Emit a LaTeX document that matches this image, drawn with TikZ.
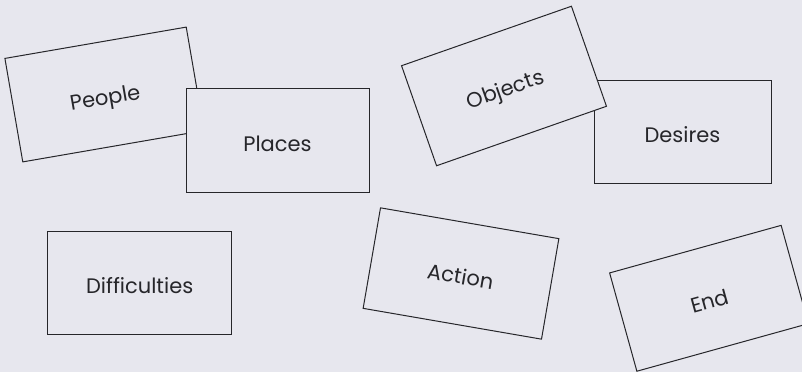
\documentclass[tikz,border=0pt]{standalone}
\usepackage{fontspec}
\setmainfont{Poppins}
\definecolor{paper}{RGB}{231,231,238}
\definecolor{ink}{RGB}{38,38,42}
\begin{document}
\begin{tikzpicture}[x=1pt,y=1pt,
  card/.style={draw=ink, line width=1pt, fill=paper, rectangle, inner sep=0pt,
    text=ink, font=\fontsize{21}{24}\selectfont, text height=21pt, text depth=0pt}]
\useasboundingbox (0,0) rectangle (802,372);
\clip (0,0) rectangle (802,372);
\fill[paper] (0,0) rectangle (802,372);
\node[card, minimum width=184pt, minimum height=105pt, rotate=9.8] (people) at (104.5,277.5) {People};
\node[card, minimum width=183pt, minimum height=104pt] (places) at (277.5,231) {Places};
\node[card, minimum width=177pt, minimum height=103pt] (desires) at (682.5,240.3) {Desires};
\node[card, minimum width=180pt, minimum height=106pt, rotate=19.3] (objects) at (504,286) {Objects};
\node[card, minimum width=184pt, minimum height=103pt] (difficulties) at (139.7,88.7) {Difficulties};
\node[card, minimum width=181pt, minimum height=102pt, rotate=-9.8] (action) at (461,98.5) {Action};
\node[card, minimum width=178pt, minimum height=102pt, rotate=15.5] (end) at (709,73.7) {End};
\end{tikzpicture}
\end{document}
